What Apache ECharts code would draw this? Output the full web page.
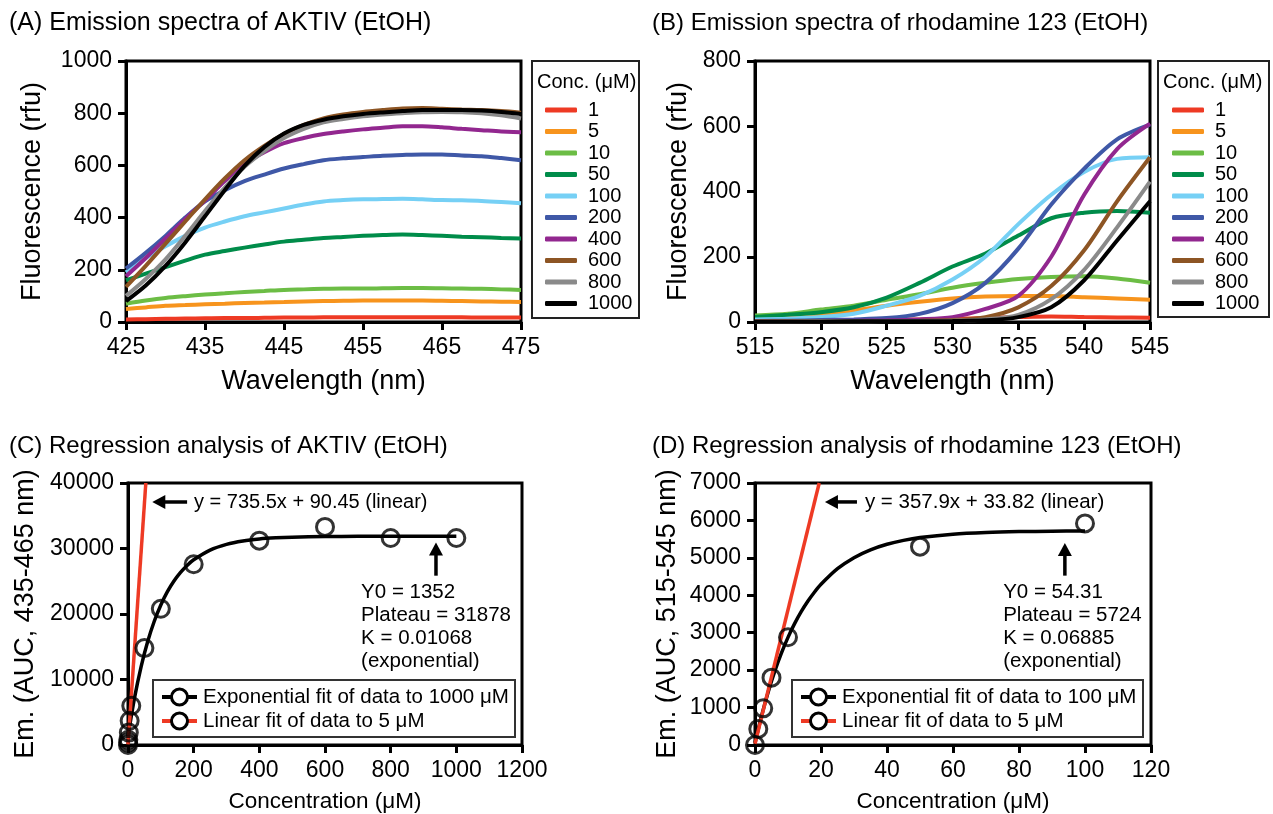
<!DOCTYPE html>
<html><head><meta charset="utf-8">
<script src="https://cdn.jsdelivr.net/npm/echarts@6/dist/echarts.min.js"></script>
<style>html,body{margin:0;padding:0;background:#fff}#c{width:1273px;height:814px}</style>
</head><body><div id="c"></div>
<script>
// ---------- DATA ----------
const concNames = ['1','5','10','50','100','200','400','600','800','1000'];
const concColors = ['#ee3a24','#f7941d','#6cbd45','#008c4a','#76d0f5','#3f58a7','#92278f','#8d5524','#8a8a8a','#000000'];

// Panel A: AKTIV emission spectra (rfu)
const wavelengthA = [425,427.5,430,432.5,435,437.5,440,442.5,445,447.5,450,452.5,455,457.5,460,462.5,465,467.5,470,472.5,475];
const aktiv_1    = [10,11,12,13,14,15,15,16,17,17,18,18,18,18,18,18,18,18,17,17,17];
const aktiv_5    = [50,56,62,65,68,70,73,75,77,79,80,81,82,82,82,82,81,80,79,78,77];
const aktiv_10   = [70,82,92,99,105,110,115,119,123,125,127,128,128,129,130,130,129,128,127,125,123];
const aktiv_50   = [160,185,210,235,258,272,285,297,308,315,322,326,330,333,335,333,330,327,325,322,320];
const aktiv_100  = [190,245,290,330,362,385,405,420,435,450,462,467,470,471,472,470,467,466,464,460,455];
const aktiv_200  = [205,265,330,400,462,505,540,565,588,605,620,627,632,637,640,642,642,638,635,628,620];
const aktiv_400  = [175,245,320,395,465,540,605,650,685,705,720,730,738,744,750,750,746,740,735,730,727];
const aktiv_600  = [135,215,300,385,470,550,620,675,720,755,780,795,805,812,818,820,817,814,812,808,802];
const aktiv_800  = [100,165,240,330,425,515,595,655,705,740,765,778,788,795,800,804,805,804,800,792,780];
const aktiv_1000 = [80,140,215,305,405,505,598,670,722,755,775,788,797,803,808,812,812,812,810,805,797];

// Panel B: rhodamine 123 emission spectra (rfu)
const wavelengthB = [515,517.5,520,522.5,525,527.5,530,532.5,535,537.5,540,542.5,545];
const rho_1    = [3,4,5,6,7,8,10,12,15,17,15,14,13];
const rho_5    = [8,12,20,35,50,62,72,78,80,80,76,72,68];
const rho_10   = [20,25,38,50,68,85,105,120,132,138,140,133,120];
const rho_50   = [15,22,30,45,75,120,170,210,265,318,335,340,335];
const rho_100  = [8,10,15,25,50,80,130,200,300,390,460,500,505];
const rho_200  = [3,4,6,8,12,25,58,120,225,360,470,560,605];
const rho_400  = [2,2,3,4,5,8,15,40,80,200,390,530,608];
const rho_600  = [2,2,2,3,3,4,6,15,45,110,220,370,505];
const rho_800  = [1,1,2,2,3,3,4,8,22,70,160,290,430];
const rho_1000 = [1,1,1,2,2,2,3,5,15,45,128,250,370];

// Panel C: AKTIV regression
const concC = [0,0.5,1,2.5,5,10,50,100,200,400,600,800,1000];
const aucC  = [0,400,800,1900,3700,6000,14800,20800,27600,31200,33300,31600,31600];
const fitXC = [0,20,40,60,80,100,120,140,160,180,200,250,300,350,400,450,500,600,700,800,900,1000];
const fitYC = [1352,7222,11966,15794,18889,21386,23404,25034,26350,27412,28273,29763,30639,31151,31452,31628,31731,31828,31861,31876,31877,31878];
const linXC = [0,54.26];
const linYC = [90.45,40000];

// Panel D: rhodamine 123 regression
const concD = [0,1,2.5,5,10,50,100];
const aucD  = [0,430,980,1800,2880,5300,5920];
const fitXD = [0,2,4,6,8,10,12,14,16,18,20,25,30,35,40,45,50,60,70,80,90,100];
const fitYD = [54,783,1419,1973,2455,2876,3242,3561,3839,4082,4293,4710,5005,5215,5363,5468,5543,5633,5678,5701,5712,5718];
const linXD = [0,19.46];
const linYD = [33.82,7000];

// Tick labels
const ticksXA = [425,435,445,455,465,475];
const ticksXB = [515,520,525,530,535,540,545];

// ---------- CHART ----------
const F = "'Liberation Sans', Arial, Helvetica, sans-serif";
const spectraA = [aktiv_1,aktiv_5,aktiv_10,aktiv_50,aktiv_100,aktiv_200,aktiv_400,aktiv_600,aktiv_800,aktiv_1000];
const spectraB = [rho_1,rho_5,rho_10,rho_50,rho_100,rho_200,rho_400,rho_600,rho_800,rho_1000];
const zip = (xs, ys) => xs.map((x, i) => [x, ys[i]]);

function axis(gridIndex, min, max, interval, name, nameGap, nameSize, custom) {
  const a = {
    type: 'value', gridIndex, min, max, interval, name, nameLocation: 'middle', nameGap,
    nameMoveOverlap: false,
    nameTextStyle: {fontSize: nameSize, fontFamily: F, color: '#000'},
    axisLine: {show: true, onZero: false, lineStyle: {color: '#000', width: 3}},
    axisTick: {show: true, inside: false, length: 8, lineStyle: {color: '#000', width: 3}},
    axisLabel: {fontSize: 23, fontFamily: F, color: '#000', margin: 14, formatter: v => String(v)},
    splitLine: {show: false}
  };
  if (custom) { a.axisTick.customValues = custom; a.axisLabel.customValues = custom; }
  return a;
}

const series = [];
concNames.forEach((n, i) => {
  series.push({name: n, type: 'line', xAxisIndex: 0, yAxisIndex: 0, data: zip(wavelengthA, spectraA[i]),
    smooth: 0.3, showSymbol: false, color: concColors[i], lineStyle: {width: 4, color: concColors[i]}, z: 2 + i});
});
concNames.forEach((n, i) => {
  series.push({name: n, type: 'line', xAxisIndex: 1, yAxisIndex: 1, data: zip(wavelengthB, spectraB[i]),
    smooth: 0.3, showSymbol: false, color: concColors[i], lineStyle: {width: 4, color: concColors[i]}, z: 2 + i});
});
// C
series.push({type: 'line', xAxisIndex: 2, yAxisIndex: 2, data: zip(fitXC, fitYC), smooth: 0.3,
  showSymbol: false, lineStyle: {width: 3.5, color: '#000'}, z: 3});
series.push({type: 'line', xAxisIndex: 2, yAxisIndex: 2, data: zip(linXC, linYC), showSymbol: false,
  lineStyle: {width: 3.5, color: '#ee3a24'}, z: 4});
series.push({type: 'scatter', xAxisIndex: 2, yAxisIndex: 2, data: zip(concC, aucC), symbol: 'circle', symbolSize: 17,
  itemStyle: {color: 'rgba(0,0,0,0)', borderColor: '#000', borderWidth: 3}, z: 5});
// D
series.push({type: 'line', xAxisIndex: 3, yAxisIndex: 3, data: zip(fitXD, fitYD), smooth: 0.3,
  showSymbol: false, lineStyle: {width: 3.5, color: '#000'}, z: 3});
series.push({type: 'line', xAxisIndex: 3, yAxisIndex: 3, data: zip(linXD, linYD), showSymbol: false,
  lineStyle: {width: 3.5, color: '#ee3a24'}, z: 4});
series.push({type: 'scatter', xAxisIndex: 3, yAxisIndex: 3, data: zip(concD, aucD), symbol: 'circle', symbolSize: 17,
  itemStyle: {color: 'rgba(0,0,0,0)', borderColor: '#000', borderWidth: 3}, z: 5});

const gridBase = {show: true, borderColor: '#000', borderWidth: 3, backgroundColor: 'transparent', containLabel: false};
const legendBase = {orient: 'vertical', icon: 'roundRect', itemWidth: 32, itemHeight: 5, itemGap: 1.5, padding: 0,
  selectedMode: false, data: concNames,
  textStyle: {fontSize: 20, fontFamily: F, color: '#000', lineHeight: 20, padding: [0, 0, 0, 6]}};

const option = {
  animation: false,
  backgroundColor: '#fff',
  grid: [
    Object.assign({left: 126, top: 61, width: 395, height: 261}, gridBase),
    Object.assign({left: 755, top: 61, width: 395, height: 261}, gridBase),
    Object.assign({left: 128, top: 483, width: 394, height: 263}, gridBase),
    Object.assign({left: 755, top: 483, width: 396, height: 263}, gridBase)
  ],
  xAxis: [
    axis(0, 425, 475, 10, 'Wavelength (nm)', 46, 27, ticksXA),
    axis(1, 515, 545, 5, 'Wavelength (nm)', 46, 27, ticksXB),
    axis(2, 0, 1200, 200, 'Concentration (μM)', 45, 22.5),
    axis(3, 0, 120, 20, 'Concentration (μM)', 45, 22.5)
  ],
  yAxis: [
    axis(0, 0, 1000, 200, 'Fluorescence (rfu)', 80, 27),
    axis(1, 0, 800, 200, 'Fluorescence (rfu)', 63, 27),
    axis(2, 0, 40000, 10000, 'Em. (AUC, 435-465 nm)', 89, 27),
    axis(3, 0, 7000, 1000, 'Em. (AUC, 515-545 nm)', 74, 27)
  ],
  legend: [
    Object.assign({left: 545, top: 100}, legendBase),
    Object.assign({left: 1172, top: 100}, legendBase)
  ],
  series
};

const chart = echarts.init(document.getElementById('c'), null, {renderer: 'canvas'});
chart.setOption(option);

// ---------- ANNOTATIONS ----------
const g = [];
const txt = (x, y, s, size, extra) => g.push({type: 'text', x, y, silent: true,
  style: Object.assign({text: s, fontSize: size, fontFamily: F, fill: '#000', verticalAlign: 'middle', align: 'left'}, extra || {})});
// titles
txt(9, 23, '(A) Emission spectra of AKTIV (EtOH)', 25);
txt(652, 23, '(B) Emission spectra of rhodamine 123 (EtOH)', 24);
txt(9, 446, '(C) Regression analysis of AKTIV (EtOH)', 24);
txt(652, 446, '(D) Regression analysis of rhodamine 123 (EtOH)', 24);
// legend boxes + titles
g.push({type: 'rect', shape: {x: 532, y: 61, width: 107, height: 257}, style: {fill: 'none', stroke: '#222', lineWidth: 2}});
g.push({type: 'rect', shape: {x: 1158, y: 61, width: 111, height: 256}, style: {fill: 'none', stroke: '#222', lineWidth: 2}});
txt(537, 82, 'Conc. (μM)', 20);
txt(1163, 82, 'Conc. (μM)', 20);

function arrow(gi, from, to) {
  const p0 = chart.convertToPixel({gridIndex: gi}, from);
  const p1 = chart.convertToPixel({gridIndex: gi}, to);
  const dx = p1[0] - p0[0], dy = p1[1] - p0[1];
  const L = Math.hypot(dx, dy), ux = dx / L, uy = dy / L;
  const hl = 13, hw = 7;
  const bx = p1[0] - ux * hl, by = p1[1] - uy * hl;
  g.push({type: 'line', shape: {x1: p0[0], y1: p0[1], x2: bx + ux * 2, y2: by + uy * 2}, style: {stroke: '#000', lineWidth: 3.5}});
  g.push({type: 'polygon', shape: {points: [[p1[0], p1[1]], [bx - uy * hw, by + ux * hw], [bx + uy * hw, by - ux * hw]]}, style: {fill: '#000'}});
}
function dataText(gi, pt, s, size, extra, dy) {
  const p = chart.convertToPixel({gridIndex: gi}, pt);
  txt(p[0], p[1] + (dy || 0), s, size, extra);
}
// C annotations
arrow(2, [180, 37100], [74, 37100]);
dataText(2, [201, 37100], 'y = 735.5x + 90.45 (linear)', 20);
arrow(2, [938, 25850], [938, 30900]);
dataText(2, [710, 23300], 'Y0 = 1352\nPlateau = 31878\nK = 0.01068\n(exponential)', 20.5, {verticalAlign: 'top', lineHeight: 23}, -11.5);
// D annotations
arrow(3, [30.9, 6494], [21.2, 6494]);
dataText(3, [33.3, 6494], 'y = 357.9x + 33.82 (linear)', 20.5);
arrow(3, [93.9, 4525], [93.9, 5400]);
dataText(3, [75.2, 4080], 'Y0 = 54.31\nPlateau = 5724\nK = 0.06885\n(exponential)', 20.5, {verticalAlign: 'top', lineHeight: 23}, -11.5);

// C / D inner legends
function fitLegend(x, y, w, h, lineX1, lineX2, textX, size, label1, label2) {
  g.push({type: 'rect', shape: {x, y, width: w, height: h}, style: {fill: '#fff', stroke: '#333', lineWidth: 2}, z: 10});
  const rows = [[y + 17, '#000', label1], [y + 41, '#ee3a24', label2]];
  rows.forEach(r => {
    g.push({type: 'line', shape: {x1: lineX1, y1: r[0], x2: lineX2, y2: r[0]}, style: {stroke: r[1], lineWidth: 4}, z: 11});
    g.push({type: 'circle', shape: {cx: (lineX1 + lineX2) / 2, cy: r[0], r: 8}, style: {fill: '#fff', stroke: '#000', lineWidth: 3}, z: 12});
    g.push({type: 'text', x: textX, y: r[0], z: 12, style: {text: r[2], fontSize: size, fontFamily: F, fill: '#000', verticalAlign: 'middle'}});
  });
}
fitLegend(153, 680, 362, 57, 162, 197, 203, 20.5, 'Exponential fit of data to 1000 μM', 'Linear fit of data to 5 μM');
fitLegend(792, 680, 351, 57, 801, 836, 842, 20.5, 'Exponential fit of data to 100 μM', 'Linear fit of data to 5 μM');

chart.setOption({graphic: g});
</script></body></html>
